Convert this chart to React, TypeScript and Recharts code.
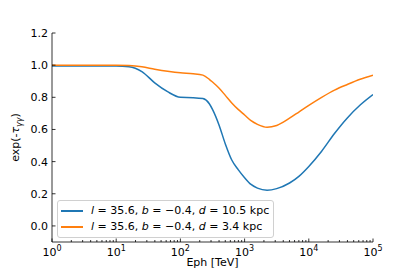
import { LineChart, Line, XAxis, YAxis, Legend } from 'recharts';

// photon energy in TeV (log-spaced reading points)
const energies = [1, 3.16, 10, 15.8, 25.1, 39.8, 63.1, 100, 158, 224, 282, 316, 398, 501, 631, 794, 1000, 1259, 1585, 2239, 3162, 5012, 7079, 10000, 15849, 25119, 39811, 63096, 100000];
// absorption factor exp(-tau) for the far source (d = 10.5 kpc)
const farSource = [0.994, 0.994, 0.994, 0.99, 0.96, 0.89, 0.835, 0.8, 0.798, 0.792, 0.76, 0.725, 0.63, 0.51, 0.41, 0.35, 0.3, 0.258, 0.235, 0.222, 0.232, 0.267, 0.31, 0.37, 0.465, 0.575, 0.672, 0.752, 0.817];
// absorption factor for the near source (d = 3.4 kpc)
const nearSource = [1.0, 1.0, 1.0, 0.998, 0.99, 0.975, 0.962, 0.952, 0.947, 0.938, 0.912, 0.895, 0.858, 0.812, 0.765, 0.725, 0.69, 0.655, 0.632, 0.614, 0.625, 0.67, 0.71, 0.75, 0.8, 0.845, 0.88, 0.912, 0.937];

const seriesLabels = [
  { name: 'far', color: '#1f77b4', d: '10.5' },
  { name: 'near', color: '#ff7f0e', d: '3.4' },
];

const majorX = [1, 10, 100, 1000, 10000, 100000];
const xTicks = majorX.slice(0, -1).flatMap((m) => [1, 2, 3, 4, 5, 6, 7, 8, 9].map((k) => k * m)).concat([100000]);
const yTicks = [0, 0.2, 0.4, 0.6, 0.8, 1.0, 1.2];

const data = energies.map((e, i) => ({ e, far: farSource[i], near: nearSource[i] }));

const FONT = 'DejaVu Sans, sans-serif';

const isMajor = (v: number) => majorX.includes(v);

function BottomTick({ x, y, payload }: any) {
  const v = payload.value;
  const major = isMajor(v);
  return (
    <g>
      <line x1={x} x2={x} y1={y} y2={y - (major ? 3.5 : 2)} stroke="#000" strokeWidth={0.8} />
      {major && (
        <text x={x} y={y + 14} textAnchor="middle" fontSize={11} fontFamily={FONT} fill="#000">
          <tspan>10</tspan>
          <tspan dy={-5} fontSize={8}>{Math.round(Math.log10(v))}</tspan>
        </text>
      )}
    </g>
  );
}

function TopTick({ x, y, payload }: any) {
  const major = isMajor(payload.value);
  return <line x1={x} x2={x} y1={y} y2={y + (major ? 3.5 : 2)} stroke="#000" strokeWidth={0.8} />;
}

function LeftTick({ x, y, payload }: any) {
  return (
    <g>
      <line x1={x} x2={x + 3.5} y1={y} y2={y} stroke="#000" strokeWidth={0.8} />
      <text x={x - 4} y={y + 4} textAnchor="end" fontSize={11} fontFamily={FONT} fill="#000">
        {payload.value.toFixed(1)}
      </text>
    </g>
  );
}

function RightTick({ x, y }: any) {
  return <line x1={x} x2={x - 3.5} y1={y} y2={y} stroke="#000" strokeWidth={0.8} />;
}

function YLabel({ viewBox }: any) {
  const cx = 19;
  const cy = viewBox.y + viewBox.height / 2;
  return (
    <text x={cx} y={cy} transform={`rotate(-90, ${cx}, ${cy})`} textAnchor="middle" fontSize={11} fontFamily={FONT} fill="#000">
      <tspan>exp(-</tspan>
      <tspan fontStyle="italic">τ</tspan>
      <tspan dy={3} fontSize={8} fontStyle="italic">γγ</tspan>
      <tspan dy={-3}>)</tspan>
    </text>
  );
}

function LegendBox() {
  return (
    <div
      style={{
        border: '1px solid #d0d0d0',
        borderRadius: 3,
        background: 'rgba(255,255,255,0.8)',
        padding: '2px 4px 2px 3px',
        fontFamily: FONT,
        fontSize: 11,
        lineHeight: '16px',
      }}
    >
      {seriesLabels.map((s) => (
        <div key={s.name} style={{ display: 'flex', alignItems: 'center', whiteSpace: 'nowrap' }}>
          <span style={{ display: 'inline-block', width: 22, height: 1.5, background: s.color, marginRight: 8 }} />
          <span>
            <i>l</i> = 35.6, <i>b</i> = −0.4, <i>d</i> = {s.d} kpc
          </span>
        </div>
      ))}
    </div>
  );
}

export default function App() {
  return (
    <div style={{ position: 'absolute', left: 0, top: 0 }}>
      <LineChart width={415} height={277} data={data} margin={{ top: 33, right: 42, bottom: 0, left: 0 }}>
        <XAxis
          dataKey="e"
          type="number"
          scale="log"
          domain={[1, 100000]}
          ticks={xTicks}
          interval={0}
          allowDataOverflow
          height={35}
          tickSize={0}
          tickMargin={0}
          tickLine={false}
          axisLine={{ stroke: '#000', strokeWidth: 0.8 }}
          tick={<BottomTick />}
          label={{ value: 'Eph [TeV]', position: 'insideBottom', offset: 11, fontSize: 11, fontFamily: FONT, fill: '#000' }}
        />
        <XAxis
          xAxisId="top"
          orientation="top"
          dataKey="e"
          type="number"
          scale="log"
          domain={[1, 100000]}
          ticks={xTicks}
          interval={0}
          allowDataOverflow
          height={0}
          tickSize={0}
          tickMargin={0}
          tickLine={false}
          axisLine={{ stroke: '#000', strokeWidth: 0.8 }}
          tick={<TopTick />}
        />
        <YAxis
          type="number"
          domain={[-0.1, 1.2]}
          ticks={yTicks}
          interval={0}
          allowDataOverflow
          width={52}
          tickSize={0}
          tickMargin={0}
          tickLine={false}
          axisLine={{ stroke: '#000', strokeWidth: 0.8 }}
          tick={<LeftTick />}
          label={<YLabel />}
        />
        <YAxis
          yAxisId="right"
          orientation="right"
          type="number"
          domain={[-0.1, 1.2]}
          ticks={yTicks}
          interval={0}
          allowDataOverflow
          width={0}
          tickSize={0}
          tickMargin={0}
          tickLine={false}
          axisLine={{ stroke: '#000', strokeWidth: 0.8 }}
          tick={<RightTick />}
        />
        <Legend
          layout="horizontal"
          verticalAlign="middle"
          wrapperStyle={{ left: 57, top: 200, width: 'auto' }}
          content={<LegendBox />}
        />
        <Line type="monotone" dataKey="far" stroke="#1f77b4" strokeWidth={1.5} dot={false} isAnimationActive={false} />
        <Line type="monotone" dataKey="near" stroke="#ff7f0e" strokeWidth={1.5} dot={false} isAnimationActive={false} />
      </LineChart>
    </div>
  );
}
